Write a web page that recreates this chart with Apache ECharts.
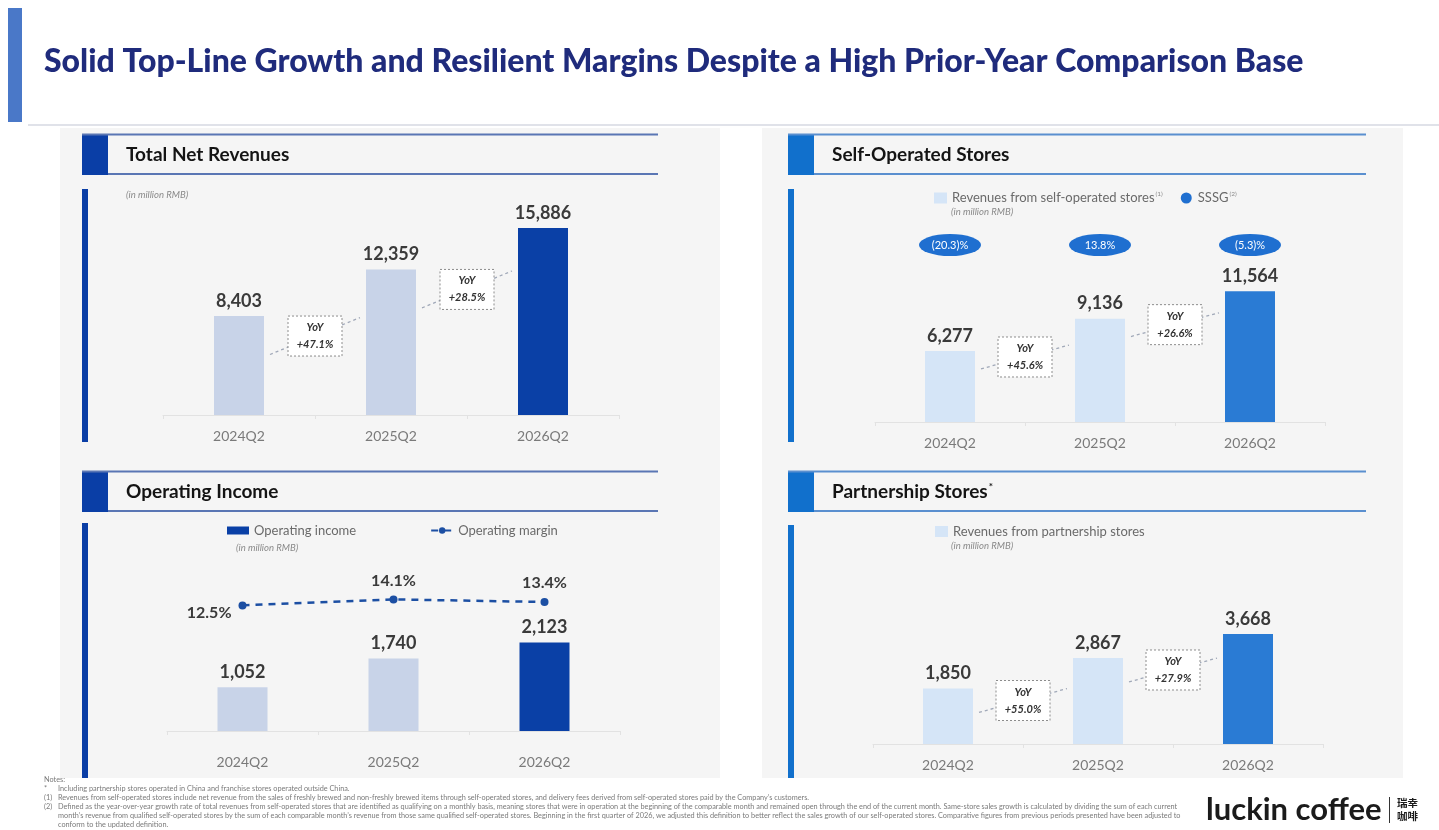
<!DOCTYPE html>
<html><head><meta charset="utf-8">
<script src="https://cdn.jsdelivr.net/npm/echarts@6/dist/echarts.min.js"></script>
<style>html,body{margin:0;padding:0;background:#fff}#c{width:1439px;height:830px}</style>
</head><body><div id="c"></div>
<script>
// ---------- data ----------
const categories = ['2024Q2', '2025Q2', '2026Q2'];
const totalRevenues = [8403, 12359, 15886];
const totalYoY = ['+47.1%', '+28.5%'];
const selfOpRevenues = [6277, 9136, 11564];
const selfOpYoY = ['+45.6%', '+26.6%'];
const sssg = [-20.3, 13.8, -5.3];
const opIncome = [1052, 1740, 2123];
const opMargin = [12.5, 14.1, 13.4];
const partnerRevenues = [1850, 2867, 3668];
const partnerYoY = ['+55.0%', '+27.9%'];

// ---------- styles ----------
const F = "Lato, 'Noto Sans', sans-serif";
const NAVY = '#0a40a6', NAVY_LIGHT = '#c8d3e8';
const BLUE = '#2a7bd4', BLUE_LIGHT = '#d5e5f7';
const LEFT_SQ = '#0a3ea6', RIGHT_SQ = '#1170cc';
const LEFT_LN = '#5a76b4', RIGHT_LN = '#5a8fcf';

const chart = echarts.init(document.getElementById('c'), null, {renderer: 'canvas'});

const fmtNum = v => Number(v).toLocaleString('en-US');
const fmtSSSG = v => v < 0 ? '(' + Math.abs(v).toFixed(1) + ')%' : v.toFixed(1) + '%';

function catAxis(gi, show) {
  return {
    type: 'category', gridIndex: gi, data: categories, show: show !== false,
    axisLine: {lineStyle: {color: '#e2e2e2', width: 1}},
    axisTick: {show: true, length: 4, lineStyle: {color: '#e2e2e2'}},
    axisLabel: {color: '#7a7a7a', fontFamily: F, fontSize: 14, margin: 14}
  };
}
function valAxis(gi, max, extra) {
  return Object.assign({type: 'value', gridIndex: gi, min: 0, max: max, show: false, splitLine: {show: false}}, extra || {});
}
function barSeries(name, values, seriesColor, colors, xi, yi) {
  return {
    type: 'bar', name: name, xAxisIndex: xi, yAxisIndex: yi, barWidth: 50,
    itemStyle: {color: seriesColor},
    data: values.map((v, i) => ({value: v, itemStyle: {color: colors[i]}})),
    label: {show: true, position: 'top', distance: 6, formatter: p => fmtNum(p.value),
      fontFamily: F, fontWeight: 'bold', fontSize: 18, color: '#3a3a3a'},
    silent: true, z: 3
  };
}
function yoySeries(values, yoy, xi, yi, offset, slope) {
  return {
    type: 'custom', xAxisIndex: xi, yAxisIndex: yi, silent: true, z: 6,
    data: yoy.map((t, i) => [i, values[i], values[i + 1]]),
    renderItem: function (params, api) {
      const i = api.value(0);
      const p0 = api.coord([i, api.value(1)]);
      const p1 = api.coord([i + 1, api.value(2)]);
      const half = 25;
      const cx = (p0[0] + p1[0]) / 2, cy = p0[1] + offset;
      const x0 = p0[0] + half + 6, x1 = p1[0] - half - 6;
      const y0 = cy + slope * (cx - x0), y1 = cy - slope * (x1 - cx);
      const w = 54, h = 40;
      return {type: 'group', children: [
        {type: 'line', shape: {x1: x0, y1: y0, x2: x1, y2: y1},
          style: {stroke: '#a0a8b8', lineWidth: 1.3, lineDash: [3, 3]}},
        {type: 'rect', shape: {x: cx - w / 2, y: cy - h / 2, width: w, height: h},
          style: {fill: '#ffffff', stroke: '#8c8c8c', lineWidth: 1, lineDash: [2, 2]}},
        {type: 'text', style: {x: cx, y: cy, text: 'YoY\n' + yoy[i], align: 'center', verticalAlign: 'middle',
          fontFamily: F, fontSize: 11, fontWeight: 'bold', fontStyle: 'italic', fill: '#333', lineHeight: 17}}
      ]};
    }
  };
}

// ---------- decorations ----------
const g = [];
g.push({type: 'rect', shape: {x: 8, y: 8, width: 14, height: 114}, style: {fill: '#4a78c8'}});
g.push({type: 'text', style: {x: 44, y: 62, text: 'Solid Top-Line Growth and Resilient Margins Despite a High Prior-Year Comparison Base',
  fontFamily: F, fontWeight: 900, fontSize: 32, fill: '#1f2b7c', verticalAlign: 'middle'}});
g.push({type: 'line', shape: {x1: 28, y1: 125, x2: 1439, y2: 125}, style: {stroke: '#d6d9e2', lineWidth: 1.5}});
g.push({type: 'rect', shape: {x: 60, y: 128, width: 660, height: 650}, style: {fill: '#f5f5f5'}, z: -10});
g.push({type: 'rect', shape: {x: 762, y: 128, width: 641, height: 650}, style: {fill: '#f5f5f5'}, z: -10});

function header(x, y, sq, ln, right, title, sup) {
  g.push({type: 'rect', shape: {x: x, y: y, width: 26, height: 41}, style: {fill: sq}});
  g.push({type: 'line', shape: {x1: x, y1: y + 0.5, x2: right, y2: y + 0.5}, style: {stroke: ln, lineWidth: 2}});
  g.push({type: 'line', shape: {x1: x + 26, y1: y + 40, x2: right, y2: y + 40}, style: {stroke: ln, lineWidth: 2}});
  g.push({type: 'text', style: {x: x + 44, y: y + 21, text: title + (sup ? '{s|' + sup + '}' : ''), verticalAlign: 'middle',
    fontFamily: F, fontWeight: 'bold', fontSize: 19, fill: '#141414',
    rich: {s: {fontFamily: F, fontWeight: 'bold', fontSize: 10, fill: '#141414', padding: [0, 0, 10, 1]}}}});
}
header(82, 134, LEFT_SQ, LEFT_LN, 658, 'Total Net Revenues');
header(788, 134, RIGHT_SQ, RIGHT_LN, 1366, 'Self-Operated Stores');
header(82, 471, LEFT_SQ, LEFT_LN, 658, 'Operating Income');
header(788, 471, RIGHT_SQ, RIGHT_LN, 1366, 'Partnership Stores', '*');

g.push({type: 'rect', shape: {x: 82, y: 189, width: 6, height: 253}, style: {fill: LEFT_SQ}});
g.push({type: 'rect', shape: {x: 788, y: 189, width: 6, height: 253}, style: {fill: RIGHT_SQ}});
g.push({type: 'rect', shape: {x: 82, y: 523, width: 6, height: 255}, style: {fill: LEFT_SQ}});
g.push({type: 'rect', shape: {x: 788, y: 525, width: 6, height: 253}, style: {fill: RIGHT_SQ}});

function unit(x, y) {
  g.push({type: 'text', style: {x: x, y: y, text: '(in million RMB)', verticalAlign: 'middle',
    fontFamily: F, fontSize: 9.5, fontStyle: 'italic', fill: '#8a8a8a'}});
}
unit(126, 195); unit(951, 212); unit(236, 548); unit(951, 546);

// notes
const notes = [
  [780, '', 'Notes:'],
  [789, '*', 'Including partnership stores operated in China and franchise stores operated outside China.'],
  [798, '(1)', 'Revenues from self-operated stores include net revenue from the sales of freshly brewed and non-freshly brewed items through self-operated stores, and delivery fees derived from self-operated stores paid by the Company\u2019s customers.'],
  [807, '(2)', 'Defined as the year-over-year growth rate of total revenues from self-operated stores that are identified as qualifying on a monthly basis, meaning stores that were in operation at the beginning of the comparable month and remained open through the end of the current month. Same-store sales growth is calculated by dividing the sum of each current'],
  [816, '', 'month\u2019s revenue from qualified self-operated stores by the sum of each comparable month\u2019s revenue from those same qualified self-operated stores. Beginning in the first quarter of 2026, we adjusted this definition to better reflect the sales growth of our self-operated stores. Comparative figures from previous periods presented have been adjusted to'],
  [825, '', 'conform to the updated definition.']
];
notes.forEach((n, k) => {
  if (n[1]) g.push({type: 'text', style: {x: 44, y: n[0], text: n[1], verticalAlign: 'middle', fontFamily: F, fontSize: 7.3, fill: '#7a7a7a'}});
  g.push({type: 'text', style: {x: k === 0 ? 44 : 58, y: n[0], text: n[2], verticalAlign: 'middle', fontFamily: F, fontSize: 7.3, fill: '#7a7a7a'}});
});

// logo
g.push({type: 'text', style: {x: 1206, y: 810, text: 'luckin coffee', verticalAlign: 'middle', fontFamily: F, fontWeight: 'bold', fontSize: 31, fill: '#1b1b1b'}});
g.push({type: 'line', shape: {x1: 1389.5, y1: 797, x2: 1389.5, y2: 823}, style: {stroke: '#333', lineWidth: 1}});
g.push({type: 'text', style: {x: 1397, y: 810, text: '瑞幸\n咖啡', verticalAlign: 'middle', lineHeight: 13, fontFamily: "'Noto Sans CJK SC', sans-serif", fontSize: 10.5, fontWeight: 'bold', fill: '#1b1b1b'}});

// ---------- option ----------
const ellipse = 'path://M50,0 A50,50 0 1,1 50,100 A50,50 0 1,1 50,0 Z';
const legendText = {color: '#6a6a6a', fontFamily: F, fontSize: 13,
  rich: {s: {fontFamily: F, fontSize: 6.5, color: '#8a8a8a', padding: [0, 0, 9, 1]}}};

const option = {
  backgroundColor: '#ffffff',
  animation: false,
  graphic: {elements: g},
  grid: [
    {left: 163, top: 203, width: 456, height: 212},
    {left: 875, top: 241, width: 450, height: 181},
    {left: 875, top: 234, width: 450, height: 22},
    {left: 167, top: 581, width: 453, height: 150},
    {left: 873, top: 564, width: 450, height: 180}
  ],
  xAxis: [
    catAxis(0),
    catAxis(1),
    catAxis(2, false),
    Object.assign(catAxis(3), {axisLabel: {color: '#7a7a7a', fontFamily: F, fontSize: 14, margin: 24}}),
    catAxis(4)
  ],
  yAxis: [
    valAxis(0, 18000),
    valAxis(1, 16000),
    {type: 'category', gridIndex: 2, data: ['SSSG'], show: false},
    valAxis(3, 3600),
    valAxis(3, 19, {min: -21}),
    valAxis(4, 6000)
  ],
  legend: [
    {left: 929, top: 185, itemWidth: 13, itemHeight: 11, itemGap: 18, selectedMode: false,
      data: [{name: 'Revenues from self-operated stores', icon: 'rect'}, {name: 'SSSG', icon: ellipse}],
      textStyle: legendText,
      formatter: n => n === 'SSSG' ? 'SSSG{s|(2)}' : n + '{s|(1)}'},
    {left: 222, top: 519, itemWidth: 22, itemHeight: 8, itemGap: 74, selectedMode: false,
      data: [{name: 'Operating income', icon: 'rect'}, {name: 'Operating margin'}],
      textStyle: legendText},
    {left: 930, top: 520, itemWidth: 13, itemHeight: 11, selectedMode: false,
      data: [{name: 'Revenues from partnership stores', icon: 'rect'}],
      textStyle: legendText}
  ],
  series: [
    barSeries('Total net revenues', totalRevenues, NAVY, [NAVY_LIGHT, NAVY_LIGHT, NAVY], 0, 0),
    yoySeries(totalRevenues, totalYoY, 0, 0, 20, 0.41),
    barSeries('Revenues from self-operated stores', selfOpRevenues, BLUE_LIGHT, [BLUE_LIGHT, BLUE_LIGHT, BLUE], 1, 1),
    yoySeries(selfOpRevenues, selfOpYoY, 1, 1, 6, 0.27),
    {type: 'scatter', name: 'SSSG', xAxisIndex: 2, yAxisIndex: 2, symbol: ellipse, symbolSize: [62, 22],
      itemStyle: {color: '#1f6fd0', opacity: 1}, silent: true,
      data: sssg.map((v, i) => ({value: [categories[i], 'SSSG']})),
      label: {show: true, position: 'inside', formatter: p => fmtSSSG(sssg[p.dataIndex]),
        color: '#ffffff', fontFamily: F, fontSize: 11}},
    barSeries('Operating income', opIncome, NAVY, [NAVY_LIGHT, NAVY_LIGHT, NAVY], 3, 3),
    {type: 'line', name: 'Operating margin', xAxisIndex: 3, yAxisIndex: 4,
      data: opMargin.map((v, i) => i === 0 ? {value: v, label: {position: 'left', distance: 7, offset: [0, 7]}} : v),
      symbol: 'circle', symbolSize: 8, silent: true, z: 5,
      lineStyle: {color: '#1c4fa3', width: 2.5, type: [7, 6]}, itemStyle: {color: '#1c4fa3'},
      label: {show: true, position: 'top', distance: 7, formatter: p => p.value.toFixed(1) + '%',
        fontFamily: F, fontWeight: 'bold', fontSize: 16, color: '#3a3a3a'}},
    barSeries('Revenues from partnership stores', partnerRevenues, BLUE_LIGHT, [BLUE_LIGHT, BLUE_LIGHT, BLUE], 4, 5),
    yoySeries(partnerRevenues, partnerYoY, 4, 5, 12, 0.27)
  ]
};
chart.setOption(option);
</script></body></html>
